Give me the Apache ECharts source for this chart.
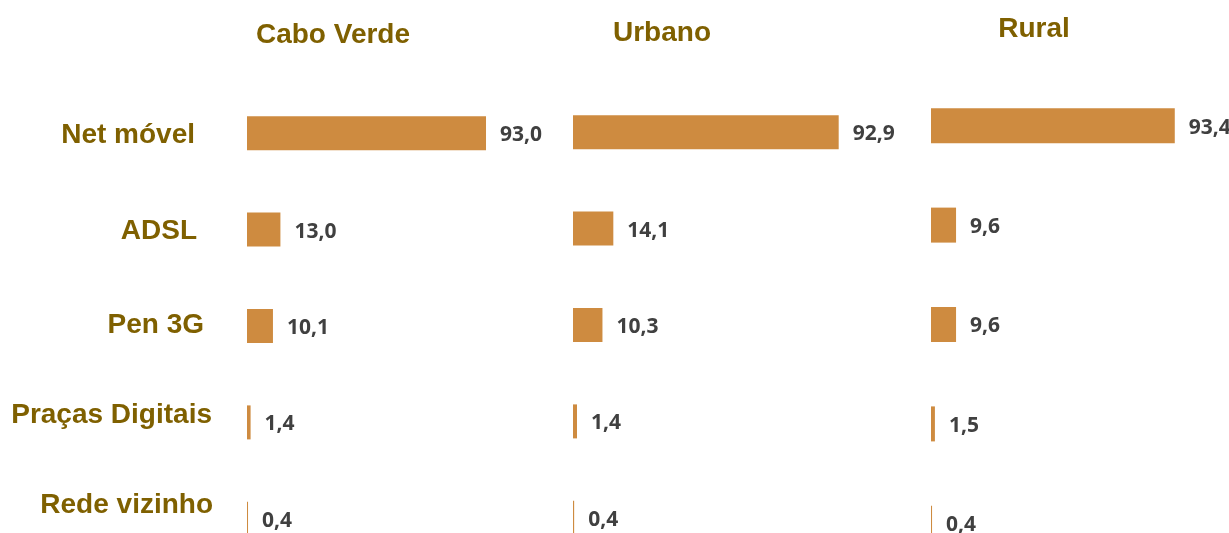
<!DOCTYPE html>
<html>
<head>
<meta charset="utf-8">
<script src="https://cdn.jsdelivr.net/npm/echarts@6/dist/echarts.min.js"></script>
<style>
  html, body { margin: 0; padding: 0; background: #fff; overflow: hidden; }
  /* taller than the window: the last row of bars runs off the bottom edge, as in the source */
  #chart { width: 1229px; height: 600px; }
</style>
</head>
<body>
<div id="chart"></div>
<script>
// data
const categories = ['Net móvel', 'ADSL', 'Pen 3G', 'Praças Digitais', 'Rede vizinho']
const panelTitles = ['Cabo Verde', 'Urbano', 'Rural']
const caboVerde = [93.0, 13.0, 10.1, 1.4, 0.4]
const urbano = [92.9, 14.1, 10.3, 1.4, 0.4]
const rural = [93.4, 9.6, 9.6, 1.5, 0.4]

const panels = [caboVerde, urbano, rural]

// layout
const grids = [
  { left: 247, top: 85, width: 257, height: 482 },
  { left: 573, top: 84, width: 286, height: 482 },
  { left: 931, top: 76, width: 261, height: 497 }
]
const barHeights = [34, 34, 35]
const titlePos = [[333, 21], [662, 19], [1034, 15]]
// per-row nudges of the left category labels
const labelPadRight = [18, 16, 9, 1, 0]
const labelVAlign = ['top', 'top', 'bottom', 'bottom', 'bottom']
const labelLineH = [4, 4, 2, 14, 28]

const olive = '#7F6000'
const barColor = '#CE8B40'

const chart = echarts.init(document.getElementById('chart'))

const fmt = v => v.toFixed(1).replace('.', ',')

chart.setOption({
  animation: false,
  backgroundColor: '#fff',
  title: panelTitles.map((t, i) => ({
    text: t,
    left: titlePos[i][0],
    top: titlePos[i][1],
    textAlign: 'center',
    padding: 0,
    textStyle: {
      fontFamily: 'Liberation Sans',
      fontWeight: 'bold',
      fontSize: 28,
      color: olive
    }
  })),
  grid: grids.map(g => ({ ...g, containLabel: false })),
  xAxis: grids.map((g, i) => ({
    type: 'value',
    gridIndex: i,
    min: 0,
    max: 100,
    show: false
  })),
  yAxis: grids.map((g, i) => ({
    type: 'category',
    gridIndex: i,
    inverse: true,
    data: categories.map((c, k) => i === 0 ? {
      value: c,
      textStyle: {
        padding: [0, labelPadRight[k], 0, 0],
        verticalAlign: labelVAlign[k],
        lineHeight: labelLineH[k]
      }
    } : c),
    axisLine: { show: false },
    axisTick: { show: false },
    splitLine: { show: false },
    axisLabel: {
      show: i === 0,
      margin: 34,
      fontFamily: 'Liberation Sans',
      fontWeight: 'bold',
      fontSize: 28,
      color: olive
    }
  })),
  series: panels.map((vals, i) => ({
    type: 'bar',
    xAxisIndex: i,
    yAxisIndex: i,
    data: vals,
    barWidth: barHeights[i],
    itemStyle: { color: barColor },
    label: {
      show: true,
      position: 'right',
      distance: 14,
      offset: [0, 2],
      formatter: p => fmt(p.value),
      fontFamily: 'Open Sans',
      fontWeight: 'bold',
      fontSize: 21,
      color: '#404040'
    }
  }))
})
</script>
</body>
</html>
